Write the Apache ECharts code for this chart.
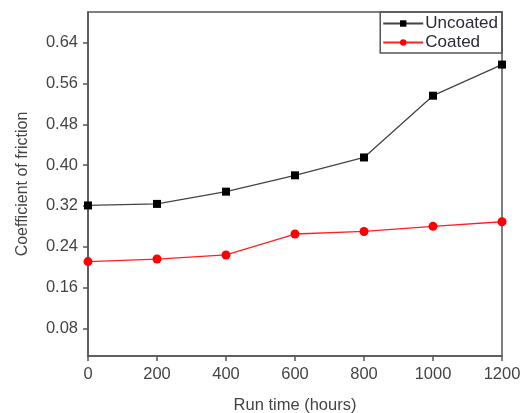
<!DOCTYPE html>
<html><head><meta charset="utf-8">
<script src="https://cdn.jsdelivr.net/npm/echarts@6/dist/echarts.min.js"></script>
<style>html,body{margin:0;padding:0;background:#fff}#c{width:527px;height:413px}</style>
</head><body><div id="c"></div>
<script>
const runTime = [0, 200, 400, 600, 800, 1000, 1200];
const uncoated = [0.321, 0.324, 0.348, 0.380, 0.415, 0.536, 0.597];
const coated = [0.211, 0.216, 0.224, 0.265, 0.270, 0.280, 0.289];
const yTicks = [0.08, 0.16, 0.24, 0.32, 0.40, 0.48, 0.56, 0.64];
const xTicks = [0, 200, 400, 600, 800, 1000, 1200];

const chart = echarts.init(document.getElementById('c'));
const font = 'Liberation Sans, Arial, sans-serif';
chart.setOption({
  animation: false,
  grid: {left: 88, right: 25, top: 12, bottom: 57, show: true, borderColor: '#555', borderWidth: 1.5,
    containLabel: false, outerBoundsMode: 'none'},
  legend: {
    orient: 'vertical', right: 25, top: 12,
    borderColor: '#555', borderWidth: 1.5, borderRadius: 0,
    padding: [3, 4, 2, 2], itemGap: 2, itemWidth: 40, itemHeight: 8,
    textStyle: {fontFamily: font, fontSize: 17, color: '#2a2a3a', padding: [0, 0, 0, -3]},
    data: ['Uncoated', 'Coated']
  },
  xAxis: {
    type: 'value', min: 0, max: 1200, interval: 200,
    name: 'Run time (hours)', nameLocation: 'middle', nameGap: 41,
    nameTextStyle: {fontFamily: font, fontSize: 16.5, color: '#444'},
    axisLine: {show: true, lineStyle: {color: '#555', width: 1.5}},
    axisTick: {show: true, inside: false, length: 5, lineStyle: {color: '#555', width: 1.5}},
    axisLabel: {fontFamily: font, fontSize: 16.5, color: '#444', margin: 10,
      customValues: xTicks, formatter: v => String(v)},
    splitLine: {show: false}
  },
  yAxis: {
    type: 'value', min: 0.026, max: 0.70,
    name: 'Coefficient of friction', nameLocation: 'middle', nameGap: 57,
    nameTextStyle: {fontFamily: font, fontSize: 16, color: '#444'},
    axisLine: {show: true, lineStyle: {color: '#555', width: 1.5}},
    axisTick: {show: true, inside: false, length: 5, customValues: yTicks, lineStyle: {color: '#555', width: 1.5}},
    axisLabel: {fontFamily: font, fontSize: 16.5, color: '#444', margin: 10,
      customValues: yTicks, formatter: v => v.toFixed(2)},
    splitLine: {show: false}
  },
  series: [
    {name: 'Uncoated', type: 'line', data: runTime.map((x, i) => [x, uncoated[i]]),
      symbol: 'rect', symbolSize: 8, lineStyle: {color: '#444', width: 1.3},
      itemStyle: {color: '#000'}},
    {name: 'Coated', type: 'line', data: runTime.map((x, i) => [x, coated[i]]),
      symbol: 'circle', symbolSize: 9, lineStyle: {color: '#ff2020', width: 1.3},
      itemStyle: {color: '#ff0000'}}
  ]
});
</script></body></html>
